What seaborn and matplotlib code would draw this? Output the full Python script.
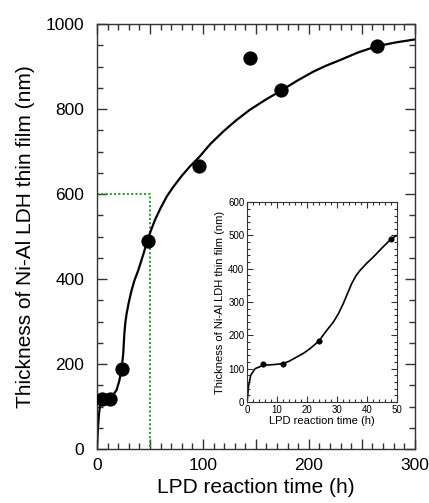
#%% ---- Load Packages ----
import numpy as np
import pandas as pd
import matplotlib
matplotlib.use("Agg")
import matplotlib.pyplot as plt
from matplotlib.ticker import MultipleLocator, FuncFormatter
import seaborn as sns

# %% ---- Data ----
time_h = [5, 12, 24, 48, 96, 144, 174, 264]
thickness_nm = [117, 118, 188, 490, 666, 921, 844, 948]

# fitted curve, main panel
fit_t = [0, 1, 2, 2.8, 4, 5, 8, 12, 15, 18.5, 21, 23.3, 24.8, 25.8, 26.8, 28, 30, 32.7,
         35.5, 39, 43.7, 47.5, 51, 54.7, 60, 66, 72, 80, 88, 96, 107, 119, 131, 144,
         159, 174, 189, 204, 216, 229, 246, 264, 282, 300]
fit_y = [0, 52, 85, 100, 110, 113, 117, 120, 127, 139, 160, 188, 225, 270, 298, 319,
         345, 374, 398, 421, 458, 490, 515, 539, 567, 595, 617, 643, 666, 686, 718,
         747, 773, 798, 822, 844, 867, 888, 902, 915, 933, 948, 957, 964]

# inset (first 50 h)
inset_t = [5.4, 11.9, 24, 48.2]
inset_y = [113, 115, 183, 490]
inset_fit_t = [0, 0.45, 1.2, 2.7, 5.4, 8.8, 11.9, 14, 16.6, 19, 21, 24, 26, 28.8, 30.5,
               32.1, 33.5, 34.9, 36.3, 37.7, 40, 42.1, 45, 47.9, 49.9]
inset_fit_y = [0, 45, 80, 100, 110, 112, 115, 122, 135, 147, 160, 183, 208, 240, 265,
               295, 325, 355, 378, 395, 417, 435, 462, 488, 500]

guide_t = [0, 50, 50]
guide_y = [600, 600, 0]

pts = pd.DataFrame({"t": time_h, "d": thickness_nm})
fit = pd.DataFrame({"t": fit_t, "d": fit_y})
ipts = pd.DataFrame({"t": inset_t, "d": inset_y})
ifit = pd.DataFrame({"t": inset_fit_t, "d": inset_fit_y})

# %% ---- Plot ----
sns.set_style("ticks")
plt.rcParams["font.family"] = ["Liberation Sans", "DejaVu Sans"]
plt.rcParams["text.color"] = "black"
plt.rcParams["axes.labelcolor"] = "black"
plt.rcParams["xtick.labelcolor"] = "black"
plt.rcParams["ytick.labelcolor"] = "black"

fig = plt.figure(figsize=(4.29, 5.03), dpi=100)
ax = fig.add_axes([0.226, 0.107, 0.741, 0.845])

ax.plot(guide_t, guide_y, color="#1f9a1f", ls=(0, (1, 1.2)), lw=1.4, zorder=1)
sns.lineplot(data=fit, x="t", y="d", ax=ax, color="black", lw=1.6, sort=False,
             estimator=None, zorder=2)
sns.scatterplot(data=pts, x="t", y="d", ax=ax, color="black", s=90,
                edgecolor="black", zorder=3)

ax.set_xlim(0, 300)
ax.set_ylim(0, 1000)
ax.xaxis.set_major_locator(MultipleLocator(50))
ax.xaxis.set_minor_locator(MultipleLocator(10))
ax.xaxis.set_major_formatter(FuncFormatter(lambda v, p: f"{v:.0f}" if v % 100 == 0 else ""))
ax.yaxis.set_major_locator(MultipleLocator(200))
ax.yaxis.set_minor_locator(MultipleLocator(50))
ax.tick_params(which="both", direction="in", top=True, right=True, labelsize=12.5,
               color="#333333")
ax.tick_params(which="major", length=7, width=1)
ax.tick_params(which="minor", length=4, width=1)
ax.tick_params(axis="y", pad=9)
ax.tick_params(axis="x", pad=6)
ax.set_xlabel("LPD reaction time (h)", fontsize=15, labelpad=4)
ax.set_ylabel("Thickness of Ni-Al LDH thin film (nm)", fontsize=15, labelpad=8)
for s in ax.spines.values():
    s.set_color("#333333")
    s.set_linewidth(1)

# inset
ax2 = fig.add_axes([0.576, 0.201, 0.349, 0.397])
sns.lineplot(data=ifit, x="t", y="d", ax=ax2, color="black", lw=1.2, sort=False,
             estimator=None)
sns.scatterplot(data=ipts, x="t", y="d", ax=ax2, color="black", s=16,
                edgecolor="black", zorder=3)
ax2.set_xlim(0, 50)
ax2.set_ylim(0, 600)
ax2.xaxis.set_major_locator(MultipleLocator(10))
ax2.xaxis.set_minor_locator(MultipleLocator(2))
ax2.yaxis.set_major_locator(MultipleLocator(100))
ax2.yaxis.set_minor_locator(MultipleLocator(20))
ax2.tick_params(which="both", direction="in", top=True, right=True, labelsize=7,
                color="#333333", pad=2)
ax2.tick_params(which="major", length=4, width=0.8)
ax2.tick_params(which="minor", length=2, width=0.8)
ax2.set_xlabel("LPD reaction time (h)", fontsize=8, labelpad=1)
ax2.set_ylabel("Thickness of Ni-Al LDH thin film (nm)", fontsize=8, labelpad=2)
for s in ax2.spines.values():
    s.set_color("#333333")
    s.set_linewidth(0.8)

fig.savefig("out.png", dpi=100)
